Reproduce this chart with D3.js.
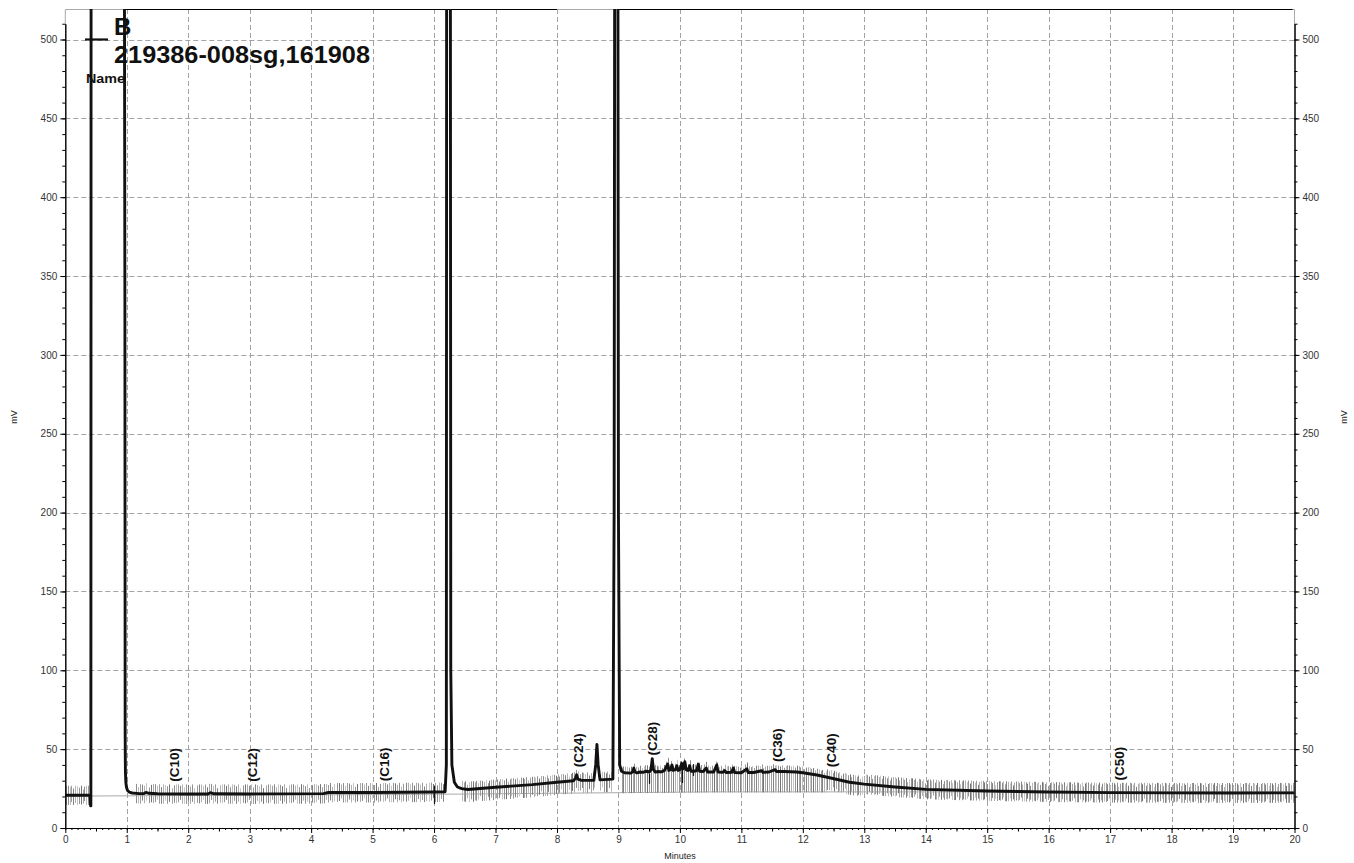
<!DOCTYPE html>
<html>
<head>
<meta charset="utf-8">
<script src="https://cdn.jsdelivr.net/npm/d3@7/dist/d3.min.js"></script>
<style>
  html, body { margin: 0; padding: 0; background: #fff; }
  svg { display: block; font-family: "Liberation Sans", Arial, sans-serif; }
</style>
</head>
<body>
<svg id="chart" width="1354" height="863"></svg>
<script>
// Chromatogram trace: retention time (minutes) and detector signal (mV).
// Values above the top of the plot are saturated peaks and are clipped.
const traceTime = [
  0.00, 0.40, 0.412, 0.416, 0.420, 0.960, 0.970, 0.974, 0.978, 0.985, 0.995, 1.01, 1.04, 1.09, 1.20,
  1.28, 1.31, 1.36, 1.50, 2.00, 2.32, 2.36, 2.42, 3.00, 4.20, 4.28, 5.00, 6.00, 6.18,
  6.20, 6.205, 6.265, 6.272, 6.29, 6.33, 6.38, 6.45, 6.55, 7.00, 7.60, 8.00, 8.27, 8.30, 8.32, 8.34,
  8.40, 8.60, 8.63, 8.65, 8.67, 8.70, 8.91, 8.93, 8.94, 8.99, 9.00, 9.02, 9.05,
  9.10, 9.20, 9.23, 9.25, 9.27, 9.30, 9.35, 9.40, 9.45, 9.50, 9.53, 9.55, 9.57, 9.60,
  9.65, 9.70, 9.75, 9.80, 9.82, 9.85, 9.87, 9.89, 9.93, 9.95, 9.97, 10.00, 10.03, 10.05,
  10.08, 10.10, 10.13, 10.16, 10.18, 10.22, 10.27, 10.30, 10.32, 10.38, 10.43, 10.45,
  10.55, 10.60, 10.62, 10.70, 10.73, 10.75, 10.84, 10.87, 10.89, 11.00, 11.09, 11.11,
  11.20, 11.33, 11.35, 11.45, 11.55, 11.57, 11.70, 11.90, 12.00, 12.23, 12.49, 12.76,
  13.00, 13.50, 14.00, 15.00, 16.00, 17.00, 18.00, 19.00, 20.00
];
const traceMv = [
  20.8, 20.8, 14.0, 14.0, 600, 600, 330, 60, 36, 29, 26, 24, 22.8, 22.2, 21.8,
  21.8, 22.6, 22.0, 21.7, 21.6, 21.6, 22.4, 21.7, 21.6, 21.8, 22.5, 22.5, 22.8, 23.0,
  40, 600, 600, 100, 40, 29, 26, 25, 24.4, 25.8, 27.5, 29, 30, 31.5, 33.7, 31,
  30.2, 30.3, 40, 53, 40, 30.5, 31, 200, 600, 600, 200, 40, 36,
  35, 34.8, 35.5, 38, 35.5, 35, 35.5, 35.3, 36, 35.5, 37, 44, 37, 35.5,
  35.8, 35.6, 36.5, 40.5, 36.5, 37, 40, 36.5, 37, 39.5, 36.5, 37, 41, 37.5,
  42, 37, 36.5, 39.5, 36, 36, 36.3, 40.5, 36, 35.8, 38, 35.5,
  35.5, 40, 35.5, 35.3, 36.5, 35.2, 35.3, 38, 35.2, 35, 37.5, 35.2,
  35.2, 36.3, 35.3, 35.5, 37, 35.8, 35.8, 35.5, 35, 33.6, 31.4, 29,
  27.8, 26, 24.5, 23.5, 22.8, 22.4, 22.3, 22.2, 22.3
];

// Integration baseline drawn under the trace.
const baselineTime = [0, 6.4, 10.5, 20];
const baselineMv = [20.2, 21.5, 22.9, 22.9];

// Peak annotations (rotated labels) and where they sit.
const peakLabels = ["(C10)", "(C12)", "(C16)", "(C24)", "(C28)", "(C36)", "(C40)", "(C50)"];
const peakLabelTime = [1.765, 3.04, 5.195, 8.34, 9.555, 11.577, 12.455, 17.15];
const peakLabelMv = [29.4, 29.4, 29.7, 38.6, 46.0, 41.8, 38.6, 30.1];

// Slice marks around the signal: band start, band end, reach above, reach below (mV),
// spacing (min); a null "below" means the marks run down to the baseline.
const sliceBandStart = [0.01, 1.15, 6.45, 9.05, 12.4, 13.0];
const sliceBandEnd   = [0.40, 6.18, 8.90, 12.4, 13.0, 20.0];
const sliceAbove     = [6.0, 6.0, 5.0, 4.0, 5.0, 6.3];
const sliceBelow     = [6.2, 6.3, 8.0, null, 8.0, 6.3];
const sliceStep      = [0.03, 0.034, 0.03, 0.03, 0.028, 0.026];

// Integration event marks (time, top mV, bottom mV).
const eventTime = [6.0, 9.5, 10.03, 10.21];
const eventTop = [26.6, 34.3, 39.5, 40.5];
const eventBottom = [15.2, 28.0, 28.5, 33.0];

// Axis ticks.
const xMajorTicks = d3.range(0, 21, 1);
const yMajorTicks = d3.range(0, 501, 50);

// Legend text.
const legendKey = "B";
const legendSample = "219386-008sg,161908";
const legendHeader = "Name";

const svg = d3.select("#chart");
const left = 65.3, right = 1294.5, bottom = 828, plotTop = 9;

const x = d3.scaleLinear().domain([0, 20]).range([left, right]);
const y = d3.scaleLinear().domain([0, 510]).range([bottom, bottom - 510 * 1.577]);

const signalAt = t => {
  const i = d3.bisectRight(traceTime, t);
  if (i <= 0) return traceMv[0];
  if (i >= traceTime.length) return traceMv[traceMv.length - 1];
  const t0 = traceTime[i - 1], t1 = traceTime[i];
  const f = (t - t0) / (t1 - t0);
  return traceMv[i - 1] + f * (traceMv[i] - traceMv[i - 1]);
};
const baselineAt = t => {
  const i = Math.min(Math.max(d3.bisectRight(baselineTime, t), 1), baselineTime.length - 1);
  const f = (t - baselineTime[i - 1]) / (baselineTime[i] - baselineTime[i - 1]);
  return baselineMv[i - 1] + f * (baselineMv[i] - baselineMv[i - 1]);
};

svg.append("defs").append("clipPath").attr("id", "plotClip")
  .append("rect").attr("x", left).attr("y", plotTop)
  .attr("width", right - left).attr("height", bottom - plotTop);

// Grid
const grid = svg.append("g").attr("stroke", "#a3a3a3").attr("stroke-width", 1)
  .attr("stroke-dasharray", "5,3").attr("fill", "none");
grid.selectAll("line.v").data(xMajorTicks.filter(d => d > 0 && d < 20)).join("line")
  .attr("x1", d => Math.round(x(d)) + 0.5).attr("x2", d => Math.round(x(d)) + 0.5)
  .attr("y1", plotTop).attr("y2", bottom);
grid.selectAll("line.h").data(yMajorTicks.filter(d => d > 0)).join("line")
  .attr("x1", left).attr("x2", right)
  .attr("y1", d => Math.round(y(d)) + 0.5).attr("y2", d => Math.round(y(d)) + 0.5);

// Frame above the axes
const frame = svg.append("g").attr("fill", "none");
frame.append("path").attr("stroke", "#a8a8a8").attr("stroke-width", 1)
  .attr("d", `M${left},${y(510)}V${plotTop + 0.5}H${right}V${y(510)}`);
const topBlackStart = [0.975, 9.0];
const topBlackEnd = [8.0, 19.97];
frame.selectAll("line.tb").data(topBlackStart).join("line")
  .attr("stroke", "#000").attr("stroke-width", 1.2)
  .attr("x1", (d) => x(d)).attr("x2", (d, i) => x(topBlackEnd[i]))
  .attr("y1", plotTop + 0.5).attr("y2", plotTop + 0.5);

const plot = svg.append("g").attr("clip-path", "url(#plotClip)");

// Baseline
plot.append("path")
  .attr("fill", "none").attr("stroke", "#a8a8a8").attr("stroke-width", 1)
  .attr("d", d3.line().x(d => x(d)).y((d, i) => y(baselineMv[i]))(baselineTime));

// Slice marks
const lenCycle = [1, 1, 0.85, 1, 0.7, 1, 0.95, 0.8, 1, 0.6, 0.9];
const shadeCycle = ["#a8a8a8", "#8e8e8e", "#bcbcbc", "#9c9c9c", "#828282", "#b0b0b0", "#c6c6c6", "#959595", "#747474"];
const slices = [];
sliceBandStart.forEach((t0, b) => {
  let k = 0;
  for (let t = t0; t <= sliceBandEnd[b] + 1e-9; t += sliceStep[b], k++) {
    const v = signalAt(t);
    const f = lenCycle[(k + b * 3) % lenCycle.length];
    const g = lenCycle[(k * 7 + 5) % lenCycle.length];
    const below = sliceBelow[b] === null ? v - baselineAt(t) + 0.3 : sliceBelow[b];
    slices.push({ t, top: v + sliceAbove[b] * f, bot: v - below * (sliceBelow[b] === null ? 1 : g),
      c: shadeCycle[(k + b) % shadeCycle.length] });
  }
});
plot.append("g").selectAll("line").data(slices).join("line")
  .attr("x1", d => Math.round(x(d.t)) + 0.5).attr("x2", d => Math.round(x(d.t)) + 0.5)
  .attr("y1", d => y(d.top)).attr("y2", d => y(d.bot))
  .attr("stroke", d => d.c).attr("stroke-width", 1);

plot.append("g").selectAll("line").data(eventTime).join("line")
  .attr("x1", d => Math.round(x(d)) + 0.5).attr("x2", d => Math.round(x(d)) + 0.5)
  .attr("y1", (d, i) => y(eventTop[i])).attr("y2", (d, i) => y(eventBottom[i]))
  .attr("stroke", "#111").attr("stroke-width", 1.2);

// Trace
plot.append("path")
  .attr("fill", "none").attr("stroke", "#111").attr("stroke-width", 2.9)
  .attr("stroke-linejoin", "round")
  .attr("d", d3.line().x(d => x(d)).y((d, i) => y(traceMv[i]))(traceTime));

// Axes
const axisG = svg.append("g").attr("font-size", 10);
const styleAxis = g => {
  g.select(".domain").attr("stroke", "#000");
  g.selectAll(".tick line").attr("stroke", "#000");
  g.selectAll(".tick text").attr("fill", "#333").attr("font-family", "Liberation Sans, Arial, sans-serif").attr("font-size", 10);
};
// minor ticks
axisG.append("g").attr("transform", `translate(0,${bottom})`)
  .call(d3.axisBottom(x).tickValues(d3.range(0, 201).map(d => d / 10)).tickSize(2).tickSizeOuter(0).tickFormat(""))
  .call(styleAxis);
axisG.append("g").attr("transform", `translate(0,${bottom})`)
  .call(d3.axisBottom(x).tickValues(d3.range(0, 20).map(d => d + 0.5)).tickSize(3.5).tickSizeOuter(0).tickFormat(""))
  .call(styleAxis).call(g => g.select(".domain").remove());
axisG.append("g").attr("transform", `translate(0,${bottom})`)
  .call(d3.axisBottom(x).tickValues(xMajorTicks).tickSize(5).tickSizeOuter(0).tickPadding(3).tickFormat(d3.format("d")))
  .call(styleAxis);

[["left", d3.axisLeft, left], ["right", d3.axisRight, right]].forEach(([side, make, pos]) => {
  axisG.append("g").attr("transform", `translate(${pos},0)`)
    .call(make(y).tickValues(d3.range(0, 511, 10)).tickSize(3).tickSizeOuter(0).tickFormat(""))
    .call(styleAxis);
  axisG.append("g").attr("transform", `translate(${pos},0)`)
    .call(make(y).tickValues(yMajorTicks).tickSize(5).tickSizeOuter(0).tickPadding(3).tickFormat(d3.format("d")))
    .call(styleAxis);
});

// Axis titles
svg.append("text").attr("x", (left + right) / 2).attr("y", 859).attr("text-anchor", "middle")
  .attr("font-size", 9).attr("fill", "#222").text("Minutes");
[17, 1347].forEach(px => {
  svg.append("text").attr("transform", `translate(${px},417) rotate(-90)`)
    .attr("text-anchor", "middle").attr("font-size", 9).attr("fill", "#222").text("mV");
});

// Peak labels
svg.append("g").selectAll("text").data(peakLabels).join("text")
  .attr("transform", (d, i) => `translate(${x(peakLabelTime[i])},${y(peakLabelMv[i])}) rotate(-90)`)
  .attr("dy", "0.36em").attr("font-size", 13.5).attr("font-weight", "bold").attr("fill", "#111")
  .text(d => d);

// Legend
const legend = svg.append("g").attr("fill", "#111").attr("font-weight", "bold");
legend.append("line").attr("x1", 85).attr("x2", 108).attr("y1", 39.5).attr("y2", 39.5)
  .attr("stroke", "#111").attr("stroke-width", 2.2);
legend.append("text").attr("x", 114).attr("y", 35).attr("font-size", 24).text(legendKey);
legend.append("text").attr("x", 114).attr("y", 63).attr("font-size", 24)
  .attr("textLength", 256).attr("lengthAdjust", "spacingAndGlyphs").text(legendSample);
legend.append("text").attr("x", 86).attr("y", 83).attr("font-size", 12)
  .attr("textLength", 39).attr("lengthAdjust", "spacingAndGlyphs").text(legendHeader);
</script>
</body>
</html>
